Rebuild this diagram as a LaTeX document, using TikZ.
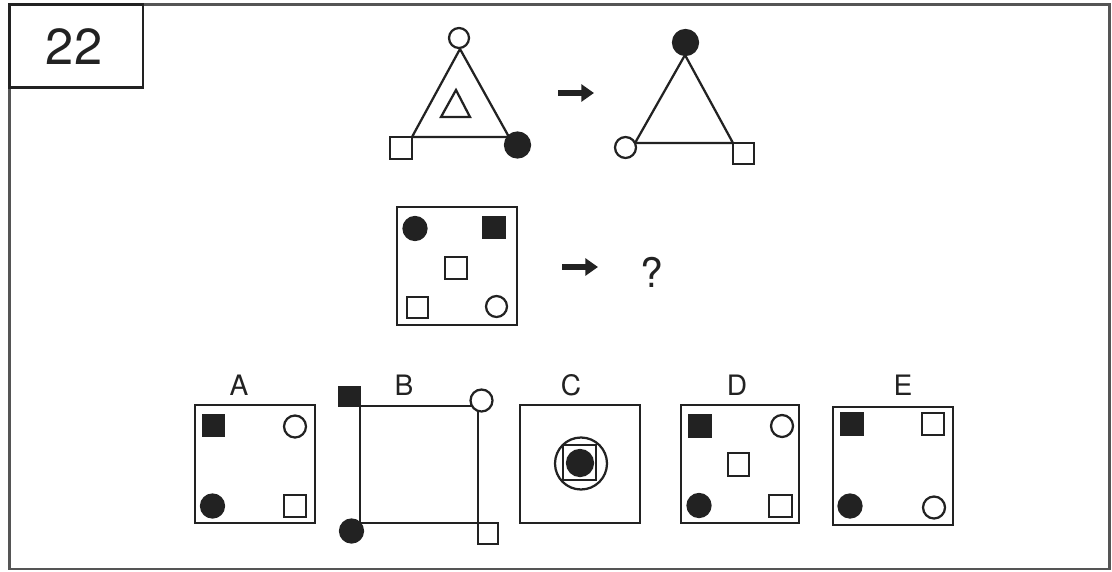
\documentclass[tikz,border=0pt]{standalone}
\usepackage{fontspec}
\setmainfont{TeX Gyre Heros}
\usetikzlibrary{arrows.meta}
\definecolor{ink}{HTML}{222222}
\definecolor{framegray}{HTML}{555555}
\tikzset{
  ln/.style={line width=1.6pt, draw=ink},
  frm/.style={line width=2.1pt, draw=ink},
  opn/.style={ln, fill=white},
  ful/.style={ln, fill=ink},
  lbl/.style={inner sep=0pt, text=ink, font=\fontsize{20}{24}\selectfont},
  arr/.style={draw=ink, line width=4pt, -{Triangle[length=9pt,width=12pt]}}
}
\begin{document}
\begin{tikzpicture}[x=0.025cm, y=-0.025cm]
\useasboundingbox (0,0) rectangle (1112,572);
% outer frame
\draw[framegray, line width=1.6pt] (9.5,4.5) rectangle (1109.5,569);
% number box
\draw[ink, line width=1.8pt] (9.5,4.5) rectangle (143,87.5);
\node[lbl, font=\fontsize{36}{40}\selectfont] (num) at (74,47) {22};

% ---- triangle 1
\coordinate (t1a) at (460,49);
\coordinate (t1l) at (412,137);
\coordinate (t1r) at (509,137);
\draw[ln] (t1a) -- (t1l) -- (t1r) -- cycle;
\draw[ln] (456,90) -- (441,117) -- (470,117) -- cycle;
\draw[opn] (459,38) circle [radius=10];
\draw[opn] (390,159) rectangle (t1l);
\draw[ful] (517.5,145) circle [radius=12.5];

% arrow 1
\coordinate (a1s) at (558,93);
\coordinate (a1e) at (594,93);
\draw[arr] (a1s) -- (a1e);

% ---- triangle 2
\coordinate (t2a) at (685,55);
\coordinate (t2l) at (635,143);
\coordinate (t2r) at (733,143);
\draw[ln] (t2a) -- (t2l) -- (t2r) -- cycle;
\draw[ful] (685.5,42.5) circle [radius=12.5];
\draw[opn] (625.5,147.5) circle [radius=10.5];
\draw[opn] (t2r) rectangle (754,164);

% ---- middle square
\draw[frm] (397,207) rectangle (517,325);
\draw[ful] (415,228.5) circle [radius=11.5];
\draw[ful] (483,217) rectangle (505,238);
\draw[opn] (445,257) rectangle (467,279);
\draw[opn] (407,297) rectangle (428,318);
\draw[opn] (496.5,306.5) circle [radius=10.5];

% arrow 2
\coordinate (a2s) at (562,267);
\coordinate (a2e) at (598,267);
\draw[arr] (a2s) -- (a2e);
\node[lbl, font=\fontsize{29}{32}\selectfont] (q) at (652,272) {?};

% ---- option A
\node[lbl] (la) at (239,385) {A};
\draw[frm] (195,405) rectangle (315,523);
\draw[ful] (203,415) rectangle (224,436);
\draw[opn] (295,426.5) circle [radius=11];
\draw[ful] (212.5,506) circle [radius=11.5];
\draw[opn] (284,495) rectangle (306,517);

% ---- option B
\node[lbl] (lb) at (404,385) {B};
\coordinate (btl) at (360,406);
\coordinate (btr) at (478,406);
\coordinate (bbl) at (360,523);
\coordinate (bbr) at (478,523);
\draw[ln] (btl) -- (btr) -- (bbr) -- (bbl) -- cycle;
\draw[ful] (339,387) rectangle (btl);
\draw[opn] (481.5,400.5) circle [radius=11];
\draw[ful] (351.5,531) circle [radius=11.5];
\draw[opn] (bbr) rectangle (498,544);

% ---- option C
\node[lbl] (lc) at (571,385) {C};
\draw[ln] (520,405) rectangle (640,523);
\draw[ln] (581,463.5) circle [radius=26];
\draw[ln] (563,445) rectangle (596,480);
\draw[ful] (580,463) circle [radius=13];

% ---- option D
\node[lbl] (ld) at (737,385) {D};
\draw[frm] (681,405) rectangle (799,523);
\draw[ful] (689,415) rectangle (711,437);
\draw[opn] (782,426) circle [radius=11];
\draw[opn] (728,453) rectangle (749,476);
\draw[ful] (699,505.5) circle [radius=11.5];
\draw[opn] (769,495) rectangle (792,517);

% ---- option E
\node[lbl] (le) at (903,385) {E};
\draw[frm] (833,407) rectangle (953,525);
\draw[ful] (841,413) rectangle (863,435);
\draw[opn] (922,413) rectangle (944,435);
\draw[ful] (850,506) circle [radius=11.5];
\draw[opn] (934,507.5) circle [radius=11];
\end{tikzpicture}
\end{document}
